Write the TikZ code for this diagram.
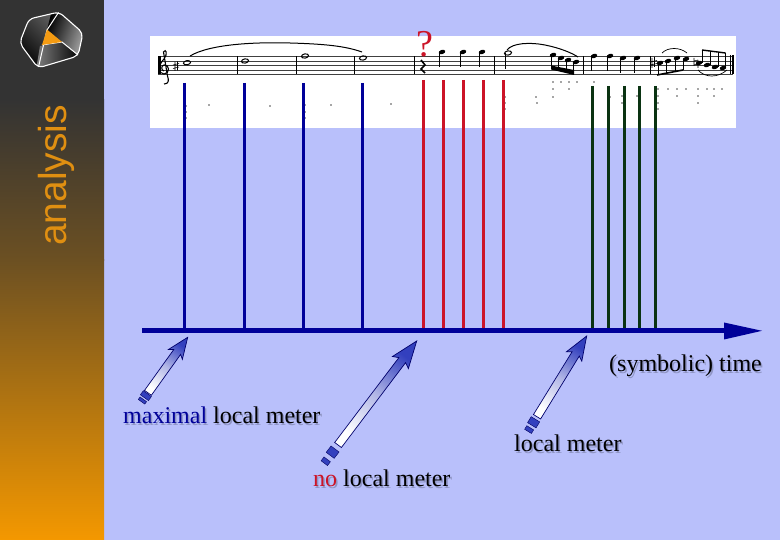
\documentclass[tikz,border=0pt]{standalone}
\usepackage{fontspec}
\setmainfont{Liberation Serif}
\newfontfamily\sansf{Liberation Sans}
\definecolor{bgc}{HTML}{B9C0FB}
\definecolor{navy}{HTML}{000099}
\definecolor{redl}{HTML}{CC1428}
\definecolor{greenl}{HTML}{0A3312}
\definecolor{arrowb}{HTML}{3340BE}
\definecolor{orangel}{HTML}{F49B12}
\definecolor{shadowc}{HTML}{8F95C4}
\newcommand{\blockarrow}[9]{% tip x, tip y, angle, length, head length, head half width, square length, gap 1, gap 2
  \begin{scope}[shift={(#1,#2)},rotate=#3]
    \shadedraw[draw=navy!70!black,line width=.7pt,bottom color=white,top color=arrowb,middle color=white!62!arrowb,shading angle=#3-270]
      (0,0) -- (#5,-#6) -- (#5-3,-4.2) -- (#4,-4.2) -- (#4,4.2) -- (#5-3,4.2) -- (#5,#6) -- cycle;
    \fill[arrowb,draw=navy!60!black,line width=.4pt] (#4+#8,-5) rectangle (#4+#8+#7,5);
    \fill[arrowb,draw=navy!60!black,line width=.4pt] (#4+#8+#7+#9,-4) rectangle (#4+#8+#7+#9+.6*#7,4);
  \end{scope}}
\tikzset{
  label txt/.style={inner sep=0pt,anchor=base west,font=\fontsize{24}{24}\selectfont,text=black},
  shadow txt/.style={label txt,text=shadowc},
  vbar/.style={line width=3pt},
  staff/.style={line width=.7pt,black!75},
  mus/.style={line width=1pt,black},
  speck/.style={black!70},
}
\newcommand{\qnote}[2]{\fill[black,rotate around={20:(#1,#2)}] (#1,#2) ellipse (3.4 and 2.1);}
\newcommand{\qstemup}[2]{\qnote{#1}{#2}\draw[mus] (#1-2.8,#2) -- (#1-2.8,#2+15);}
\newcommand{\hollow}[2]{\draw[line width=1pt,black,rotate around={10:(#1,#2)}] (#1,#2) ellipse (3.6 and 2.1);}
\begin{document}
\begin{tikzpicture}[x=1pt,y=-1pt]
\useasboundingbox (0,0) rectangle (780,540);
\fill[bgc] (0,0) rectangle (780,540);
% sidebar
\fill[color={rgb,255:red,51;green,51;blue,51}] (0,0) rectangle (104,100);
\shade[top color={rgb,255:red,51;green,51;blue,51},bottom color={rgb,255:red,108;green,80;blue,34}] (0,99.5) rectangle (104,260.5);
\shade[top color={rgb,255:red,108;green,80;blue,34},bottom color={rgb,255:red,244;green,152;blue,0}] (0,260) rectangle (104,540);
% logo
\begin{scope}
  \clip[rounded corners=5pt] (19.5,43) -- (29,19) -- (59,12) -- (83,33) -- (78,56) -- (38,68) -- cycle;
  \shade[left color=black,right color=black!62,shading angle=135] (15,8) -- (60,8) -- (44,46) -- (38,70) -- (15,70) -- cycle;
  \shade[left color=black,right color=black!35,shading angle=70] (52,10) -- (84,10) -- (84,58) -- (78,55) -- (62,42) -- (47,30) -- cycle;
  \shade[left color=black!50,right color=black] (40,46) -- (62,43) -- (78,55) -- (80,70) -- (36,70) -- cycle;
\end{scope}
\draw[white,line width=1.1pt,rounded corners=5pt] (19.5,43) -- (29,19) -- (59,12) -- (83,33) -- (78,56) -- (38,68) -- cycle;
\draw[white,line width=1pt] (58.5,12.5) -- (47,30) -- (38.5,67);
\draw[white,line width=1pt] (42,45) -- (62,42) -- (78,55);
\fill[orangel] (47,29.5) -- (62,42) -- (42,45) -- cycle;
\node[rotate=90,anchor=base west,inner sep=0pt,text=orangel!92!black,font=\sansf\fontsize{39}{39}\selectfont] (side) at (66,246) {analysis};
% score
\fill[white] (150,36) rectangle (736,128);
\foreach \yy in {56.5,61,65.5,70,74} \draw[staff] (158,\yy) -- (733,\yy);
\foreach \bx in {158,237,296,354,414,494,583,650} \draw[mus] (\bx,56.5) -- (\bx,74);
\draw[line width=1.4pt] (160,56.5) -- (160,74);
\draw[mus] (730,55) -- (730,74);
\draw[line width=1.8pt] (733,55) -- (733,74);
% clef
\draw[line width=1.1pt] (164,84) .. controls (169,84) and (169,80) .. (167.5,76) -- (163.5,52) .. controls (166,48) and (168,54) .. (164,59) .. controls (158,65) and (158,74) .. (164,74) .. controls (170,74) and (170,64) .. (164,65) .. controls (161,66) and (161,70) .. (164,71);
\draw[line width=.6pt] (175,62) -- (175,71) (177.5,61.5) -- (177.5,70.5) (173,65) -- (179,63.5) (173,68.5) -- (179,67);
% slurs
\draw[line width=1pt] (190,56) .. controls (210,44) and (255,42) .. (290,43) .. controls (325,44) and (345,46) .. (362,52);
\draw[line width=1pt] (507,50) .. controls (512,43) and (530,42) .. (545,45) .. controls (560,48) and (572,53) .. (578,57);
% whole/half notes
\hollow{187}{62.7}\hollow{245}{61}\hollow{305}{56}\hollow{363}{58}\hollow{508}{53}
\draw[mus] (505,53) -- (505,69);
% rest
\draw[line width=1.6pt] (421,60) -- (425,65) -- (421,69) -- (425,73);
% quarter notes
\qstemup{442}{52}\qstemup{463}{52}\qstemup{482}{52}
\qstemup{594}{56}\qstemup{610}{56}\qstemup{623}{58}\qstemup{637}{58}
% beamed group 1
\qnote{553}{55}\qnote{561}{58}\qnote{568}{60}\qnote{576}{62}
\draw[mus] (551,55) -- (551,67) (558.5,58) -- (558.5,69) (566,60) -- (566,71) (573,62) -- (573,72);
\fill (551,65.5) -- (574,70) -- (574,75) -- (551,69.5) -- cycle;
% beamed group 2
\qnote{660}{63}\qnote{668}{61}\qnote{677}{58}\qnote{686}{59}
\draw[mus] (658,63) -- (658,75) (666,61) -- (666,73.5) (675,58) -- (675,72) (683,59) -- (683,70);
\draw[line width=1.6pt] (657,75) -- (683,70);
\draw[line width=.7pt] (662,53) .. controls (668,47) and (680,47) .. (687,53);
\draw[line width=.6pt] (652,58) -- (652,68) (654.5,57) -- (654.5,67) (650,62) -- (657,60.5) (650,65) -- (657,63.5);
\draw[line width=.6pt] (694,58) -- (694,66) (698,60) -- (698,68) (694,61) -- (698,60) (694,65) -- (698,64);
% beamed group 3
\qnote{699}{63}\qnote{707}{65}\qnote{715}{67}\qnote{723}{68}
\draw[mus] (702,50) -- (702,63) (710,51) -- (710,65) (718,52) -- (718,67) (725.5,53) -- (725.5,68);
\draw[line width=1.4pt] (702,50) -- (725.5,53);
\draw[line width=.7pt] (698,70) .. controls (705,78) and (718,78) .. (727,70);
% specks
\foreach \dx/\dy in {209/105,270/106,331/105,391/104,186/106,186/112,186/118,305/105,305/112,305/118,
  553/82,561/82,569/82,577/82,594/82,553/89,569/89,553/97,536/97,537/103,
  610/97,622/96,622/103,637/96,658/89,658/96,658/103,658/109,668/89,677/89,686/89,698/89,707/89,714/89,722/89,677/96,698/96,714/96,698/103,593/97,593/117,593/89,505/97,505/103,505/109,483/97,463/103}
  \fill[speck] (\dx,\dy) circle (.8);
% question mark
\node[inner sep=0pt,anchor=base,text=redl,font=\fontsize{38}{38}\selectfont] (quest) at (424.5,56.5) {?};
% time axis
\coordinate (axL) at (142,330.8);
\coordinate (axH) at (725,330.8);
\coordinate (axT) at (762,330.8);
\foreach \vx in {184.3,244.3,303.3,362.3} \draw[vbar,navy] (\vx,83) -- (\vx,330);
\foreach \vx in {423.3,443,463,483,503} \draw[vbar,redl] (\vx,80) -- (\vx,329);
\foreach \vx in {592.7,608,624.3,639.3,655.7} \draw[vbar,greenl] (\vx,86) -- (\vx,329);
\draw[navy,line width=5.4pt] (axL) -- (axH);
\fill[navy] (724,322.5) -- (axT) -- (724,339.5) -- cycle;
% block arrows
\blockarrow{187.7}{337.3}{234.4}{68.3}{21}{8.5}{5}{1}{2}
\blockarrow{416.7}{341}{232.9}{130.4}{27}{10}{8}{5}{5}
\blockarrow{586.7}{336}{238.4}{94.8}{24}{9}{7}{3}{3}
% labels
\node[shadow txt] at (610.5,373.5) {(symbolic) time};
\node[shadow txt] at (124.5,425.2) {maximal local meter};
\node[shadow txt] at (515.5,453.2) {local meter};
\node[shadow txt] at (314.5,488.2) {no local meter};
\node[label txt] (tlab) at (609,372) {(symbolic) time};
\node[label txt] (mlab) at (123,423.7) {\textcolor{navy}{maximal} local meter};
\node[label txt] (llab) at (514,451.7) {local meter};
\node[label txt] (nlab) at (313,486.7) {\textcolor{redl}{no} local meter};
\end{tikzpicture}
\end{document}
